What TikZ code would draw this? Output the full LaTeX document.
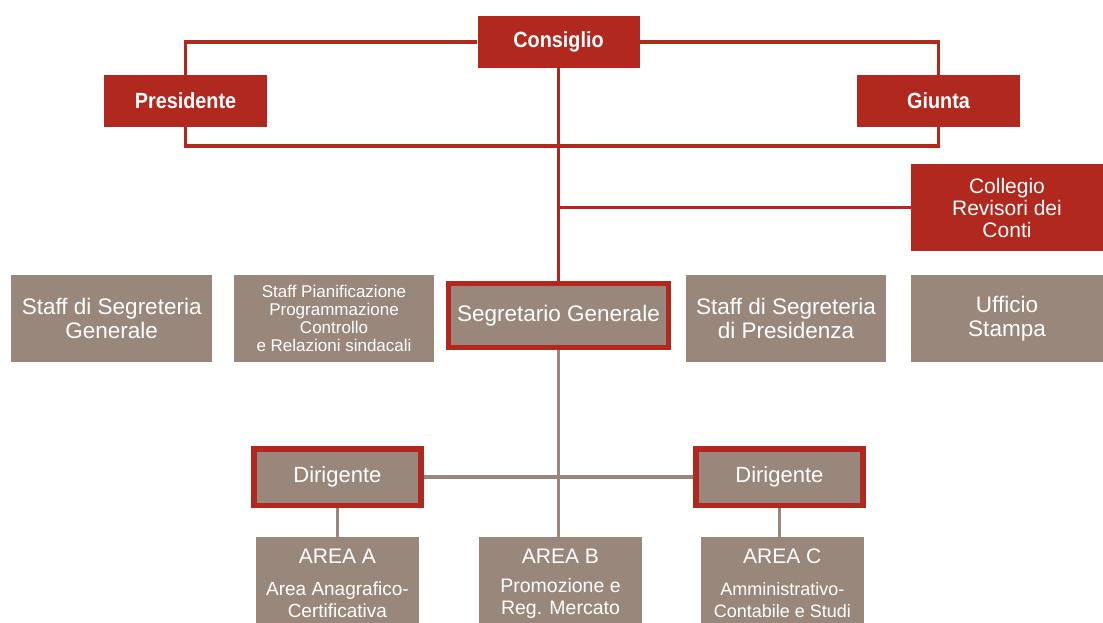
\documentclass[tikz,border=0pt]{standalone}
\usepackage{fontspec}
\setmainfont{Liberation Sans}
\newfontfamily\headfont{Liberation Sans}[FakeStretch=0.9]
\usetikzlibrary{calc,backgrounds}
\definecolor{cred}{RGB}{176,40,30}
\definecolor{cgrey}{RGB}{154,135,124}
\tikzset{
  redbox/.style={fill=cred, text=white, inner sep=0pt, align=center, font=\headfont\bfseries\fontsize{22}{24}\selectfont},
  revbox/.style={fill=cred, text=white, inner sep=0pt, align=center, font=\fontsize{21}{22}\selectfont},
  greybox/.style={fill=cgrey, text=white, inner sep=0pt, align=center, font=\fontsize{22.5}{23.5}\selectfont},
  keybox/.style={greybox, draw=cred, line width=5.5pt},
  txt/.style={text=white, inner sep=0pt, align=center},
  redline/.style={draw=cred, line width=3.2pt},
  greyline/.style={draw=cgrey, line width=3.4pt},
}
\begin{document}
\begin{tikzpicture}[x=1pt,y=-1pt]
\useasboundingbox (0,0) rectangle (1103,623);
% governing bodies
\node[redbox, minimum width=162, minimum height=52] (cons) at (558.5,42) {Consiglio};
\node[redbox, minimum width=163, minimum height=52] (pres) at (185.5,101) {Presidente};
\node[redbox, minimum width=163, minimum height=52] (giun) at (938.5,101) {Giunta};
\node[revbox, minimum width=192, minimum height=87] (coll) at (1007,207.5) {Collegio\\Revisori dei\\Conti};
\coordinate (jn) at (558.5,146);
% staff row
\node[greybox, minimum width=201, minimum height=87] (sgen) at (111.7,318.5) {Staff di Segreteria\\Generale};
\node[greybox, minimum width=200, minimum height=87, font=\fontsize{17}{18}\selectfont] (spia) at (334,318.5) {Staff Pianificazione\\Programmazione\\Controllo\\e Relazioni sindacali};
\node[keybox, minimum width=220, minimum height=64] (seg) at (558.5,315.3) {Segretario Generale};
\node[greybox, minimum width=200.5, minimum height=87] (spre) at (786,318.5) {Staff di Segreteria\\di Presidenza};
\node[greybox, minimum width=192, minimum height=87] (uff) at (1007,318.5) {Ufficio\\Stampa};
% managers
\node[keybox, minimum width=167, minimum height=56.5, font=\fontsize{22}{23}\selectfont] (dirA) at (337.4,477) {Dirigente};
\node[keybox, minimum width=167, minimum height=56.5, font=\fontsize{22}{23}\selectfont] (dirC) at (779.4,477) {Dirigente};
% areas
\node[greybox, minimum width=163, minimum height=86] (arA) at (337.4,580.2) {};
\node[greybox, minimum width=163, minimum height=86] (arB) at (560.5,580.2) {};
\node[greybox, minimum width=163, minimum height=86] (arC) at (782.3,580.2) {};
\node[txt, anchor=base, font=\fontsize{21}{22}\selectfont] (arAt) at ($(arA.north)+(0,26)$) {AREA A};
\node[txt, anchor=base, font=\fontsize{21}{22}\selectfont] (arBt) at ($(arB.north)+(0,26)$) {AREA B};
\node[txt, anchor=base, font=\fontsize{21}{22}\selectfont] (arCt) at ($(arC.north)+(0,26)$) {AREA C};
\node[txt, anchor=base, font=\fontsize{19}{22}\selectfont] (arAs) at ($(arA.north)+(0,80)$) {Area Anagrafico-\\Certificativa};
\node[txt, anchor=base, font=\fontsize{19.5}{22}\selectfont] (arBs) at ($(arB.north)+(0,77)$) {Promozione e\\Reg. Mercato};
\node[txt, anchor=base, font=\fontsize{18}{22}\selectfont] (arCs) at ($(arC.north)+(0,80)$) {Amministrativo-\\Contabile e Studi};
% connectors
\begin{scope}[on background layer]
\draw[redline] (cons.west) -| (pres.north);
\draw[redline] (cons.east) -| (giun.north);
\draw[redline] (pres.south) |- (jn) -| (giun.south);
\draw[redline] (cons.south) -- (seg.north);
\draw[redline] (coll.west) -- (coll.west -| cons.south);
\draw[greyline] (seg.south) -- (seg.south |- arB.north);
\draw[greyline] (dirA.east) -- (dirC.west);
\draw[greyline] (dirA.south) -- (arA.north);
\draw[greyline] (dirC.south) -- (dirC.south |- arC.north);
\end{scope}
\end{tikzpicture}
\end{document}
